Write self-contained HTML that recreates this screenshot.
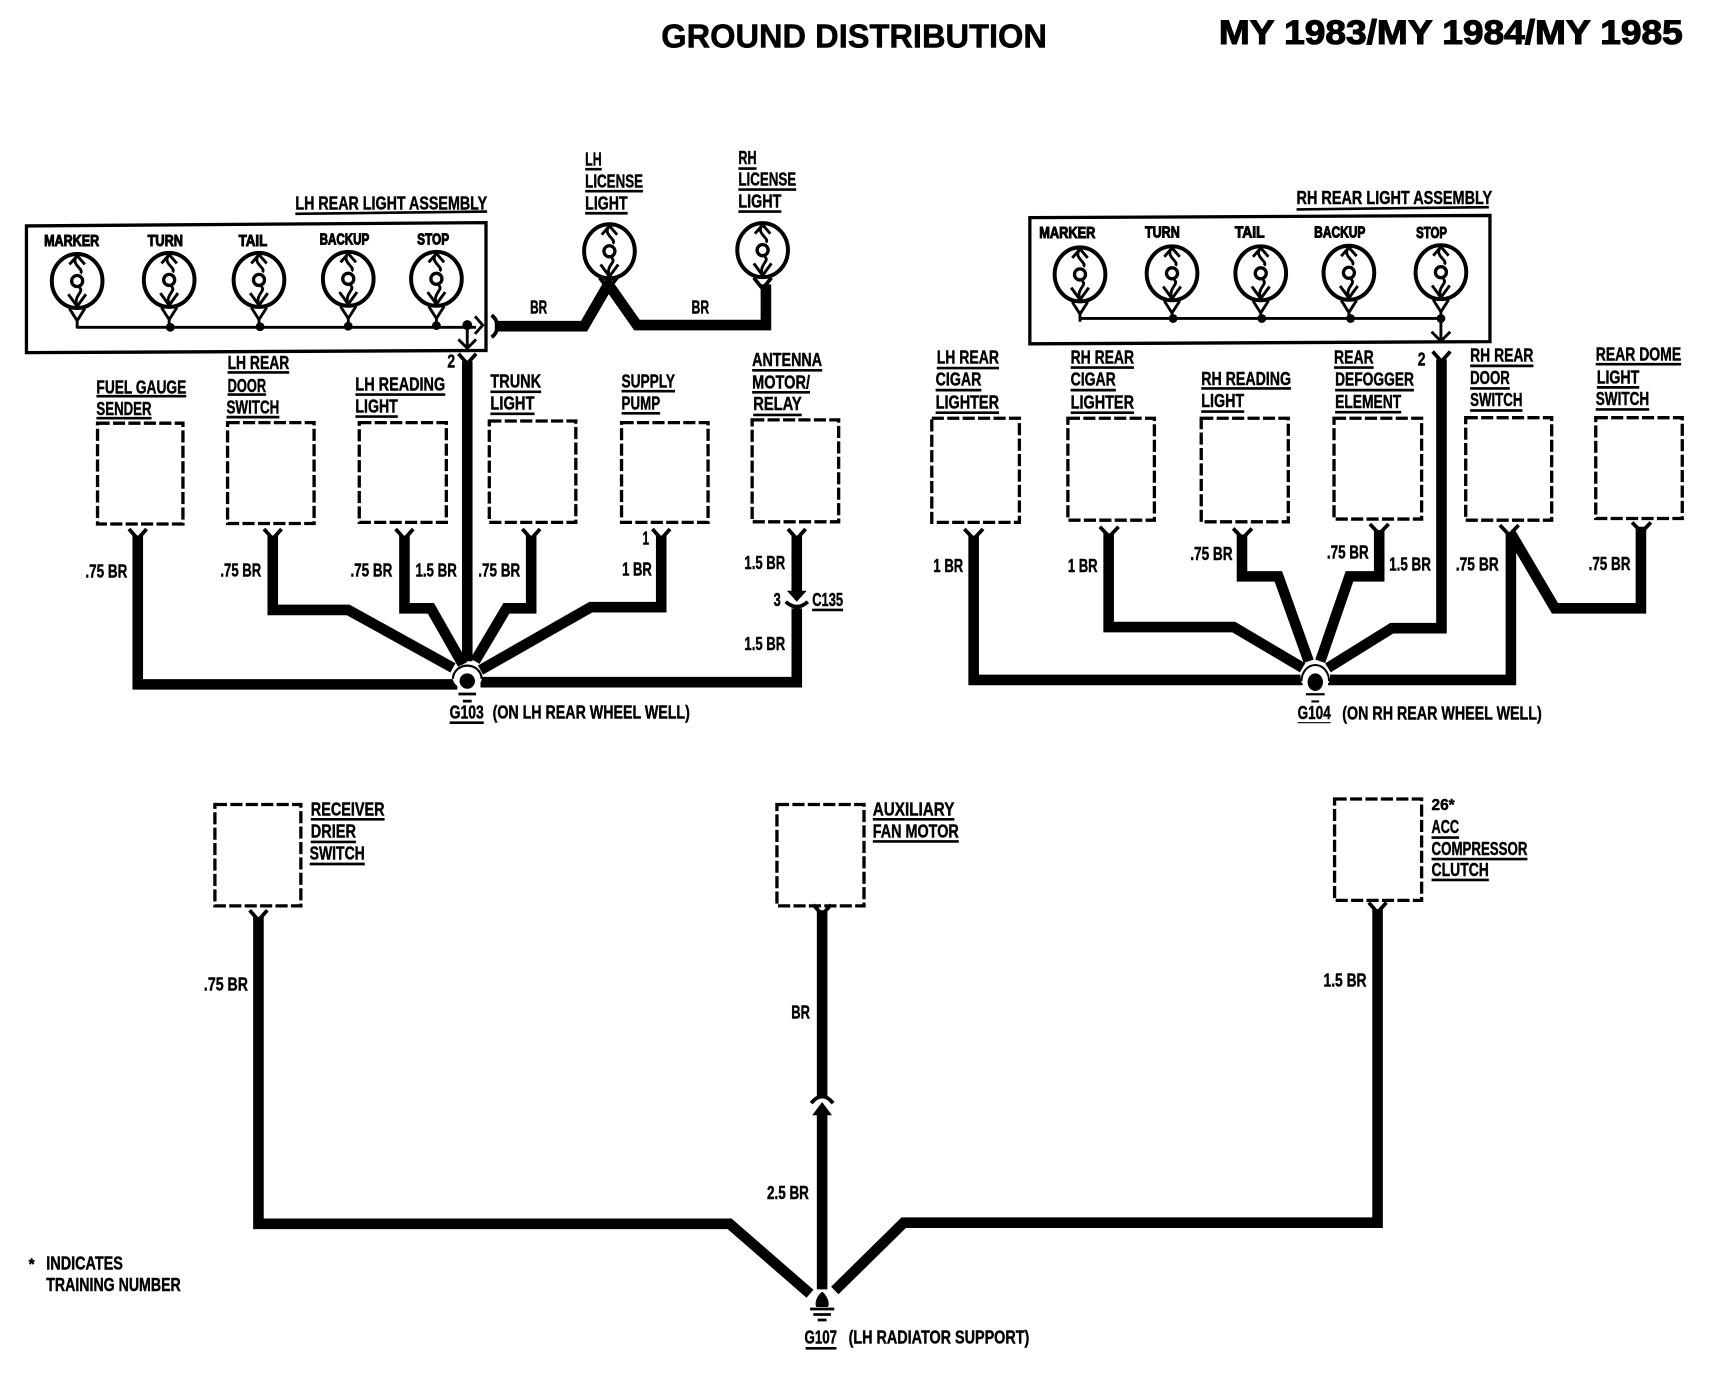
<!DOCTYPE html>
<html><head><meta charset="utf-8"><style>
html,body{margin:0;padding:0;background:#fff;width:1728px;height:1376px;overflow:hidden}
svg{display:block}
text{font-family:"Liberation Sans Narrow","Liberation Sans",sans-serif;font-weight:bold;font-size:17px;fill:#000;stroke:#000;stroke-width:.4}
.s{font-size:14px;stroke-width:.9}
.t{font-family:"Liberation Sans",sans-serif;font-size:30px;stroke-width:.5}
.w{fill:none;stroke:#000;stroke-width:9.6;stroke-linejoin:miter}
.f{fill:none;stroke:#000;stroke-width:3.4}
.u{fill:none;stroke:#000;stroke-width:2.4}
.d{fill:none;stroke:#000;stroke-width:3;stroke-dasharray:11 3}
.th{fill:none;stroke:#000;stroke-width:2.6}
</style></head><body>
<svg width="1728" height="1376" viewBox="0 0 1568 1248.6" xmlns="http://www.w3.org/2000/svg">
<defs>
<g id="bulbcore">
<ellipse cx="0" cy="0" rx="23" ry="24.500" fill="#fff" stroke="#000" stroke-width="3.600"/>
<path class="th" d="M-7,-15 L0,-23 L7,-15 M0,-23 C-7,-15 7,-11 3,-7 M2,6 C7,10 -4,13 0,23 M-8,12 L0,23 L8,12 M-5,16 L0,23 L5,16"/>
<circle cx="0" cy="0" r="5" fill="none" stroke="#000" stroke-width="3"/>
</g>
<g id="bulb">
<use href="#bulbcore"/>
<path class="th" d="M-7,25 L0,36 L7,25 M0,36 V43"/>
</g>
</defs>

<text class="t" x="600" y="43" textLength="350" lengthAdjust="spacingAndGlyphs">GROUND DISTRIBUTION</text>
<text class="t" x="1106" y="40" textLength="421" lengthAdjust="spacingAndGlyphs" style="stroke-width:1;font-size:31px">MY 1983/MY 1984/MY 1985</text>

<!-- LH rear light assembly -->
<path d="M24,205 L441,202 L441,318 L24,320 Z" fill="none" stroke="#000" stroke-width="3"/>
<text x="268" y="190" textLength="174" lengthAdjust="spacingAndGlyphs">LH REAR LIGHT ASSEMBLY</text>
<path class="u" d="M268,194 L442,192"/>
<text class="s" x="40" y="223" textLength="50" lengthAdjust="spacingAndGlyphs">MARKER</text>
<text class="s" x="134" y="223" textLength="32" lengthAdjust="spacingAndGlyphs">TURN</text>
<text class="s" x="216.500" y="223" textLength="26" lengthAdjust="spacingAndGlyphs">TAIL</text>
<text class="s" x="290" y="222" textLength="45" lengthAdjust="spacingAndGlyphs">BACKUP</text>
<text class="s" x="378.500" y="222" textLength="29" lengthAdjust="spacingAndGlyphs">STOP</text>
<use href="#bulb" x="70" y="255"/><use href="#bulb" x="153.500" y="254"/><use href="#bulb" x="235" y="254"/><use href="#bulb" x="316" y="253"/><use href="#bulb" x="396" y="253"/>
<path class="th" d="M70,297 H432 M424,295 V316 M416,308 L424,316 L432,308 M431,287 L438,295 L431,303"/>
<circle cx="154.500" cy="297" r="4"/><circle cx="236" cy="296.500" r="4"/><circle cx="316" cy="296" r="4"/><circle cx="396" cy="295.500" r="4"/><circle cx="424" cy="295" r="4.500"/>
<path class="f" d="M446,286 C453,291 453,301 446,306"/>
<path class="w" d="M449,296 H530 L552,258 L578,295 H695 V258"/>
<path class="f" d="M544,252 L552,262 L560,252 M684,252 L692,262 L700,252"/>
<text x="481" y="284.500" textLength="15.500" lengthAdjust="spacingAndGlyphs">BR</text>
<text x="627.500" y="284.500" textLength="16" lengthAdjust="spacingAndGlyphs">BR</text>

<text x="531" y="150" textLength="15" lengthAdjust="spacingAndGlyphs">LH</text><path class="u" d="M531,153.500 H546"/>
<text x="531" y="170" textLength="52.500" lengthAdjust="spacingAndGlyphs">LICENSE</text><path class="u" d="M531,173.500 H583.500"/>
<text x="531" y="190" textLength="38.500" lengthAdjust="spacingAndGlyphs">LIGHT</text><path class="u" d="M531,193.500 H569.500"/>
<text x="670" y="149" textLength="16.500" lengthAdjust="spacingAndGlyphs">RH</text><path class="u" d="M670,153 H686.500"/>
<text x="670" y="168.500" textLength="52.500" lengthAdjust="spacingAndGlyphs">LICENSE</text><path class="u" d="M670,172 H722.500"/>
<text x="670" y="188.500" textLength="39" lengthAdjust="spacingAndGlyphs">LIGHT</text><path class="u" d="M670,192 H709"/>
<use href="#bulbcore" x="553" y="228"/>
<use href="#bulbcore" x="692" y="227"/>

<text x="406" y="333.500" textLength="7" lengthAdjust="spacingAndGlyphs">2</text>

<!-- LH labels -->
<text x="87.500" y="357" textLength="81.500" lengthAdjust="spacingAndGlyphs">FUEL GAUGE</text><path class="u" d="M87.500,359.500 H169"/>
<text x="87.500" y="376.500" textLength="50" lengthAdjust="spacingAndGlyphs">SENDER</text><path class="u" d="M87.500,379.500 H137.500"/>
<text x="206.500" y="335" textLength="56" lengthAdjust="spacingAndGlyphs">LH REAR</text><path class="u" d="M206.500,338 H262.500"/>
<text x="206.500" y="355.500" textLength="35" lengthAdjust="spacingAndGlyphs">DOOR</text><path class="u" d="M206.500,358 H241.500"/>
<text x="205.500" y="375" textLength="48" lengthAdjust="spacingAndGlyphs">SWITCH</text><path class="u" d="M205.500,378.500 H253.500"/>
<text x="322.500" y="354.500" textLength="81.500" lengthAdjust="spacingAndGlyphs">LH READING</text><path class="u" d="M322.500,358 H404"/>
<text x="322.500" y="374.500" textLength="38.500" lengthAdjust="spacingAndGlyphs">LIGHT</text><path class="u" d="M322.500,378 H361"/>
<text x="445" y="351.500" textLength="46" lengthAdjust="spacingAndGlyphs">TRUNK</text><path class="u" d="M445,355.500 H491"/>
<text x="445" y="371.500" textLength="40" lengthAdjust="spacingAndGlyphs">LIGHT</text><path class="u" d="M445,375.500 H485"/>
<text x="564" y="351.800" textLength="48.500" lengthAdjust="spacingAndGlyphs">SUPPLY</text><path class="u" d="M564,355 H612.500"/>
<text x="564" y="371.500" textLength="35" lengthAdjust="spacingAndGlyphs">PUMP</text><path class="u" d="M564,375 H599"/>
<text x="682.500" y="332" textLength="63.500" lengthAdjust="spacingAndGlyphs">ANTENNA</text><path class="u" d="M682.500,336 H746"/>
<text x="682.500" y="352.500" textLength="52.500" lengthAdjust="spacingAndGlyphs">MOTOR/</text><path class="u" d="M682.500,356 H735"/>
<text x="683.500" y="372" textLength="44" lengthAdjust="spacingAndGlyphs">RELAY</text><path class="u" d="M683.500,376.500 H727.500"/>

<rect class="d" x="88.500" y="384" width="77.500" height="91.500"/>
<rect class="d" x="206.500" y="383.500" width="78.500" height="91.500"/>
<rect class="d" x="326" y="383.500" width="79" height="90.500"/>
<rect class="d" x="444" y="382" width="78.500" height="92"/>
<rect class="d" x="564" y="383.500" width="78.500" height="90.500"/>
<rect class="d" x="682.500" y="381" width="78.500" height="92.500"/>

<!-- LH wires -->
<path class="w" d="M125,486 V621 H415"/>
<path class="w" d="M247.500,486 V553.500 H316 L411,606"/>
<path class="w" d="M367,486 V552 H391 L420,603"/>
<path class="w" d="M424,328 V600"/>
<path class="w" d="M482,486 V552 H459.500 L431,600"/>
<path class="w" d="M600,486 V551 H536 L436,608"/>
<path class="w" d="M723,486 V538 M723,552 V619 H436"/>
<path class="f" d="M117,480 L125,489 L133,480 M239.500,480 L247.500,489 L255.500,480 M359,480 L367,489 L375,480 M474,480 L482,489 L490,480 M592,480 L600,489 L608,480 M715,480 L723,489 L731,480 M416,321 L424,330 L432,321"/>
<path d="M714,536 H732 L723,546 Z"/>
<path class="f" d="M713,546 Q723,555 733,546"/>
<ellipse cx="424" cy="614" rx="13" ry="11" fill="#fff" stroke="#fff" stroke-width="1"/>
<path d="M411,616 A13,12 0 0 1 437,616" fill="none" stroke="#000" stroke-width="2"/>
<ellipse cx="424" cy="618" rx="7" ry="7"/>
<path d="M416,628.500 H432 V631 H416 Z M420,635 H428 V637.500 H420 Z"/>
<text x="408" y="652" textLength="31" lengthAdjust="spacingAndGlyphs">G103</text><path class="u" d="M408,655.800 H439"/>
<text x="447" y="652" textLength="179" lengthAdjust="spacingAndGlyphs">(ON LH REAR WHEEL WELL)</text>
<text x="77.500" y="524" textLength="38" lengthAdjust="spacingAndGlyphs">.75 BR</text>
<text x="200" y="523" textLength="37" lengthAdjust="spacingAndGlyphs">.75 BR</text>
<text x="318" y="523" textLength="38" lengthAdjust="spacingAndGlyphs">.75 BR</text>
<text x="377" y="523" textLength="37.500" lengthAdjust="spacingAndGlyphs">1.5 BR</text>
<text x="434" y="523" textLength="38" lengthAdjust="spacingAndGlyphs">.75 BR</text>
<text x="564.500" y="522" textLength="27" lengthAdjust="spacingAndGlyphs">1 BR</text>
<text x="583" y="494" textLength="6" lengthAdjust="spacingAndGlyphs">1</text>
<text x="675.500" y="516.500" textLength="37" lengthAdjust="spacingAndGlyphs">1.5 BR</text>
<text x="702" y="550" textLength="6.500" lengthAdjust="spacingAndGlyphs">3</text>
<text x="737" y="550" textLength="28" lengthAdjust="spacingAndGlyphs">C135</text><path class="u" d="M737,553.500 H765"/>
<text x="675.500" y="590" textLength="37" lengthAdjust="spacingAndGlyphs">1.5 BR</text>

<!-- RH rear light assembly -->
<path d="M934.500,197.500 L1352,195.500 L1352,310 L934.500,312 Z" fill="none" stroke="#000" stroke-width="3"/>
<text x="1176.500" y="185" textLength="177.500" lengthAdjust="spacingAndGlyphs">RH REAR LIGHT ASSEMBLY</text>
<path class="u" d="M1176.500,190 L1351,188"/>
<text class="s" x="943" y="216" textLength="51" lengthAdjust="spacingAndGlyphs">MARKER</text>
<text class="s" x="1039" y="215.500" textLength="31.500" lengthAdjust="spacingAndGlyphs">TURN</text>
<text class="s" x="1120.500" y="215.500" textLength="27" lengthAdjust="spacingAndGlyphs">TAIL</text>
<text class="s" x="1192.500" y="215.500" textLength="46.500" lengthAdjust="spacingAndGlyphs">BACKUP</text>
<text class="s" x="1285" y="216" textLength="28" lengthAdjust="spacingAndGlyphs">STOP</text>
<use href="#bulb" x="980" y="249"/><use href="#bulb" x="1063.500" y="248"/><use href="#bulb" x="1144" y="248"/><use href="#bulb" x="1224" y="247.500"/><use href="#bulb" x="1307.500" y="247"/>
<path class="th" d="M980,289 H1307.500 V309 M1299,301 L1307.500,309.500 L1316,301"/>
<circle cx="1064.500" cy="289" r="4"/><circle cx="1145" cy="289" r="4"/><circle cx="1225.500" cy="289" r="4"/><circle cx="1307.500" cy="289" r="4"/>
<text x="1286.500" y="331.500" textLength="7" lengthAdjust="spacingAndGlyphs">2</text>

<text x="850" y="330" textLength="56.500" lengthAdjust="spacingAndGlyphs">LH REAR</text><path class="u" d="M850,334 H906.500"/>
<text x="849" y="350" textLength="41.500" lengthAdjust="spacingAndGlyphs">CIGAR</text><path class="u" d="M849,354 H890.500"/>
<text x="849" y="370.500" textLength="57.500" lengthAdjust="spacingAndGlyphs">LIGHTER</text><path class="u" d="M849,374.500 H906.500"/>
<text x="971.500" y="330" textLength="57.500" lengthAdjust="spacingAndGlyphs">RH REAR</text><path class="u" d="M971.500,333.500 H1029"/>
<text x="971.500" y="350" textLength="41" lengthAdjust="spacingAndGlyphs">CIGAR</text><path class="u" d="M971.500,354 H1012.500"/>
<text x="971.500" y="370.500" textLength="57.500" lengthAdjust="spacingAndGlyphs">LIGHTER</text><path class="u" d="M971.500,374.500 H1029"/>
<text x="1090" y="349.500" textLength="81.500" lengthAdjust="spacingAndGlyphs">RH READING</text><path class="u" d="M1090,352.500 H1171.500"/>
<text x="1090" y="369.500" textLength="39" lengthAdjust="spacingAndGlyphs">LIGHT</text><path class="u" d="M1090,373.500 H1129"/>
<text x="1210.500" y="330" textLength="36" lengthAdjust="spacingAndGlyphs">REAR</text><path class="u" d="M1210.500,333.500 H1246.500"/>
<text x="1211.500" y="350" textLength="71.500" lengthAdjust="spacingAndGlyphs">DEFOGGER</text><path class="u" d="M1211.500,354 H1283"/>
<text x="1211.500" y="370" textLength="60" lengthAdjust="spacingAndGlyphs">ELEMENT</text><path class="u" d="M1211.500,374 H1271.500"/>
<text x="1334" y="328" textLength="57.500" lengthAdjust="spacingAndGlyphs">RH REAR</text><path class="u" d="M1334,332 H1391.500"/>
<text x="1334" y="348.500" textLength="36" lengthAdjust="spacingAndGlyphs">DOOR</text><path class="u" d="M1334,352.500 H1370"/>
<text x="1334" y="368.500" textLength="47.500" lengthAdjust="spacingAndGlyphs">SWITCH</text><path class="u" d="M1334,372.500 H1381.500"/>
<text x="1448" y="327" textLength="77.500" lengthAdjust="spacingAndGlyphs">REAR DOME</text><path class="u" d="M1448,330.500 H1525.500"/>
<text x="1449" y="348" textLength="38.500" lengthAdjust="spacingAndGlyphs">LIGHT</text><path class="u" d="M1449,351.500 H1487.500"/>
<text x="1448" y="367.500" textLength="48.500" lengthAdjust="spacingAndGlyphs">SWITCH</text><path class="u" d="M1448,371.500 H1496.500"/>

<rect class="d" x="845.500" y="379.500" width="79.500" height="94.500"/>
<rect class="d" x="969" y="379.500" width="78.500" height="92.500"/>
<rect class="d" x="1090" y="379.500" width="79" height="94"/>
<rect class="d" x="1210.500" y="379.500" width="79.500" height="91.500"/>
<rect class="d" x="1330" y="379" width="78" height="93"/>
<rect class="d" x="1448" y="379" width="78.500" height="91.500"/>

<!-- RH wires -->
<path class="w" d="M883.500,486 V617 H1182"/>
<path class="w" d="M1006,484 V569 H1119.500 L1182,606"/>
<path class="w" d="M1127,485 V523 H1160 L1187.500,600"/>
<path class="w" d="M1251.500,481 V523 H1224.500 L1198,600"/>
<path class="w" d="M1308,326 V570 H1263 L1205,606"/>
<path class="w" d="M1371,483 V617 H1205"/>
<path class="w" d="M1371,484 L1411,552 H1489 V478"/>
<path class="f" d="M875,480 L883.500,489 L892,480 M998,478 L1006.500,487 L1015,478 M1119,479.500 L1127.500,488.500 L1136,479.500 M1243,475.500 L1251.500,484.500 L1260,475.500 M1361,476.500 L1369.500,485.500 L1378,476.500 M1481,474 L1489.500,483 L1498,474 M1300,319 L1308,328 L1316,319"/>
<ellipse cx="1193.500" cy="614" rx="13" ry="12" fill="#fff" stroke="#fff"/>
<ellipse cx="1193.500" cy="619" rx="7" ry="8"/>
<path d="M1181,618 A12,14 0 0 1 1206,618" fill="none" stroke="#000" stroke-width="1.800"/>
<path d="M1185,629 H1202 V631 H1185 Z M1190,635.500 H1197 V637.500 H1190 Z"/>
<text x="1177.500" y="652.500" textLength="30" lengthAdjust="spacingAndGlyphs">G104</text><path d="M1177.500,655.800 H1207.500" stroke="#000" stroke-width="1"/>
<text x="1218" y="652.800" textLength="181" lengthAdjust="spacingAndGlyphs">(ON RH REAR WHEEL WELL)</text>
<text x="847" y="519" textLength="27" lengthAdjust="spacingAndGlyphs">1 BR</text>
<text x="969" y="519" textLength="27" lengthAdjust="spacingAndGlyphs">1 BR</text>
<text x="1080" y="508" textLength="38.500" lengthAdjust="spacingAndGlyphs">.75 BR</text>
<text x="1204" y="507" textLength="38" lengthAdjust="spacingAndGlyphs">.75 BR</text>
<text x="1260.500" y="517.500" textLength="38" lengthAdjust="spacingAndGlyphs">1.5 BR</text>
<text x="1321" y="517.500" textLength="39" lengthAdjust="spacingAndGlyphs">.75 BR</text>
<text x="1441.500" y="517" textLength="38" lengthAdjust="spacingAndGlyphs">.75 BR</text>

<!-- Bottom -->
<rect class="d" x="195" y="730" width="78" height="92"/>
<rect class="d" x="705" y="730" width="79" height="92"/>
<rect class="d" x="1211" y="725" width="79" height="92"/>
<text x="282" y="740" textLength="67" lengthAdjust="spacingAndGlyphs">RECEIVER</text><path class="u" d="M282,743.500 H349"/>
<text x="282" y="760" textLength="41" lengthAdjust="spacingAndGlyphs">DRIER</text><path class="u" d="M282,764 H323"/>
<text x="281" y="780" textLength="50" lengthAdjust="spacingAndGlyphs">SWITCH</text><path class="u" d="M281,784 H331"/>
<text x="792" y="740" textLength="74" lengthAdjust="spacingAndGlyphs">AUXILIARY</text><path class="u" d="M792,743.500 H866"/>
<text x="792" y="760" textLength="78" lengthAdjust="spacingAndGlyphs">FAN MOTOR</text><path class="u" d="M792,763.500 H870"/>
<text x="1299" y="735" textLength="21" lengthAdjust="spacingAndGlyphs" style="font-size:14px">26*</text>
<text x="1299" y="756" textLength="25" lengthAdjust="spacingAndGlyphs">ACC</text><path class="u" d="M1299,760 H1324"/>
<text x="1299" y="776" textLength="87" lengthAdjust="spacingAndGlyphs">COMPRESSOR</text><path class="u" d="M1299,779.500 H1386"/>
<text x="1299" y="795" textLength="52" lengthAdjust="spacingAndGlyphs">CLUTCH</text><path class="u" d="M1299,798.500 H1351"/>

<path class="w" d="M234.500,832 V1110.500 H662 L735,1174"/>
<path class="w" d="M746,826 V996 M746,1008 V1170"/>
<path class="w" d="M757.500,1171 L820,1109.500 H1250 V825"/>
<path class="f" d="M226.500,826 L234.500,835 L242.500,826 M738,821 L746,830 L754,821 M1242,819 L1250,828 L1258,819"/>
<path class="f" d="M736,1001 Q746,989 756,1001"/>
<path d="M737,1012 L746,1000 L755,1012 Z"/>
<path d="M746,1172 C740,1177 739,1184 741,1186 H751 C753,1184 752,1177 746,1172 Z"/>
<path d="M735,1186.500 H757 V1189 H735 Z M738,1191.500 H754 V1194 H738 Z M742,1196.500 H750 V1199 H742 Z"/>
<text x="730" y="1219" textLength="29.500" lengthAdjust="spacingAndGlyphs">G107</text><path class="u" d="M731,1223.500 H759"/>
<text x="770" y="1219" textLength="164" lengthAdjust="spacingAndGlyphs">(LH RADIATOR SUPPORT)</text>
<text x="185" y="899" textLength="40" lengthAdjust="spacingAndGlyphs">.75 BR</text>
<text x="718" y="924" textLength="17" lengthAdjust="spacingAndGlyphs">BR</text>
<text x="696" y="1088" textLength="38" lengthAdjust="spacingAndGlyphs">2.5 BR</text>
<text x="1201" y="895" textLength="39" lengthAdjust="spacingAndGlyphs">1.5 BR</text>
<text x="26" y="1152" style="font-size:14px">*</text>
<text x="42" y="1152" textLength="69.500" lengthAdjust="spacingAndGlyphs">INDICATES</text>
<text x="42" y="1171.500" textLength="122" lengthAdjust="spacingAndGlyphs">TRAINING NUMBER</text>
</svg>
</body></html>
